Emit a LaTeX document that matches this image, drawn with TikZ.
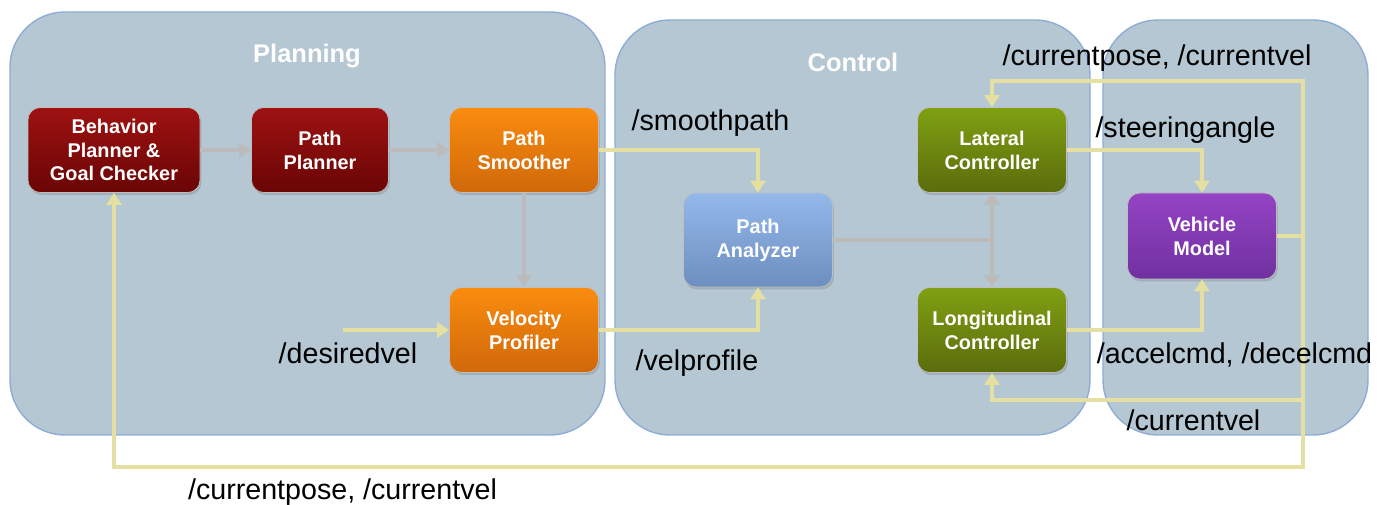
\documentclass[tikz,border=0pt]{standalone}
\usepackage{fontspec}
\setmainfont{Liberation Sans}
\usepackage{xcolor}
\usepackage{tikz}
\usetikzlibrary{arrows.meta, positioning, calc, shadows}
\definecolor{panelfill}{HTML}{B4C7D2}
\definecolor{paneledge}{HTML}{8EADD6}
\definecolor{feedline}{HTML}{E6DFA2}
\definecolor{flowgray}{HTML}{BBBBBB}
\definecolor{redtop}{HTML}{9E1212}
\definecolor{redbot}{HTML}{6A0505}
\definecolor{orgtop}{HTML}{FA8C0E}
\definecolor{orgbot}{HTML}{D0680A}
\definecolor{bluetop}{HTML}{93B8EA}
\definecolor{bluebot}{HTML}{6D8FBF}
\definecolor{grntop}{HTML}{80A012}
\definecolor{grnbot}{HTML}{5A6C0C}
\definecolor{purtop}{HTML}{9444C4}
\definecolor{purbot}{HTML}{7030A0}
\tikzset{
  module/.style  ={rectangle, draw=black!25, line width=0.4pt, rounded corners=7pt,
                   minimum height=1.7cm, minimum width=2.98cm, align=center,
                   text=white, font=\fontsize{11.3}{13.6}\selectfont\bfseries,
                   drop shadow={opacity=0.35, shadow xshift=0.8pt, shadow yshift=-1.4pt}},
  panel/.style   ={rounded corners=1.1cm, fill=panelfill, draw=paneledge, line width=0.8pt},
  ptitle/.style  ={font=\fontsize{14.5}{17}\selectfont\bfseries, text=white},
  topic/.style   ={font=\fontsize{16.3}{19}\selectfont, text=black, inner sep=1pt},
  flow/.style    ={-{Triangle[length=0.24cm, width=0.3cm]}, line width=0.08cm, flowgray},
  feed/.style    ={-{Triangle[length=0.24cm, width=0.3cm]}, line width=0.08cm, feedline}
}

\begin{document}
\begin{tikzpicture}[
  plannermod/.style ={top color=redtop, bottom color=redbot},
  smoothmod/.style  ={top color=orgtop, bottom color=orgbot},
  analyzermod/.style={top color=bluetop, bottom color=bluebot},
  controlmod/.style ={top color=grntop, bottom color=grnbot},
  vehiclemod/.style ={top color=purtop, bottom color=purbot}
]
\useasboundingbox (0,0) rectangle (27.7,10.1);

% Group panels (back)
\draw[panel] (0.2,1.4)   rectangle (12.1,9.86);
\draw[panel] (12.3,1.4)  rectangle (21.8,9.7);
\draw[panel] (22.06,1.4) rectangle (27.36,9.7);
\node[ptitle] (plantitle) at (6.14,8.98)  {Planning};
\node[ptitle] (ctrltitle) at (17.06,8.86) {Control};

% Modules
\node[module, plannermod, minimum width=3.44cm] (behav) at (2.28,7.1)
     {Behavior\\Planner \&\\Goal Checker};
\node[module, plannermod, minimum width=2.74cm] (pplan) at (6.4,7.1) {Path\\Planner};
\node[module, smoothmod]  (smooth)  at (10.48,7.1) {Path\\Smoother};
\node[module, smoothmod]  (velprof) at (10.48,3.5) {Velocity\\Profiler};
\node[module, analyzermod, minimum height=1.88cm] (analyzer) at (15.16,5.3) {Path\\Analyzer};
\node[module, controlmod] (latctl)  at (19.84,7.1) {Lateral\\Controller};
\node[module, controlmod] (lonctl)  at (19.84,3.5) {Longitudinal\\Controller};
\node[module, vehiclemod, minimum height=1.72cm] (vehicle) at (24.04,5.38) {Vehicle\\Model};

% Planning chain and analyzer output (grey)
\draw[flow] (behav) -- (pplan);
\draw[flow] (pplan) -- (smooth);
\draw[flow] (smooth) -- (velprof);
\draw[flow, -] (analyzer.east) -- (analyzer.east -| latctl.south);
\draw[flow, {Triangle[length=0.24cm, width=0.3cm]}-{Triangle[length=0.24cm, width=0.3cm]}]
     (latctl) -- (lonctl);

% Topics (yellow)
\coordinate (desired) at (6.86,3.5);
\draw[feed] (desired) -- (velprof.west);
\draw[feed] (smooth.east)  -| (analyzer.north);
\draw[feed] (velprof.east) -| (analyzer.south);
\draw[feed] (latctl.east)  -| (vehicle.north);
\draw[feed] (lonctl.east)  -| (vehicle.south);

% Feedback from the vehicle model
\coordinate (fbtop) at (26.06,8.48);
\coordinate (fbmid) at (26.06,2.1);
\coordinate (fbbot) at (26.06,0.76);
\foreach \c/\t in {fbtop/latctl.north, fbmid/lonctl.south, fbbot/behav.south}{
  \draw[feed] (vehicle.east) -| (\c) -| (\t);
}

% Topic labels
\node[topic] (smoothlbl)  at (14.21,7.64) {/smoothpath};
\node[topic] (vellbl)     at (13.94,2.84) {/velprofile};
\node[topic] (desiredlbl) at (6.96,3.04)  {/desiredvel};
\node[topic] (steerlbl)   at (23.71,7.5)  {/steeringangle};
\node[topic] (accellbl)   at (24.69,3.0)  {/accelcmd, /decelcmd};
\node[topic] (curvellbl)  at (23.87,1.7)  {/currentvel};
\node[topic] (poselbl)    at (23.14,8.94) {/currentpose, /currentvel};
\node[topic] (posebotlbl) at (6.85,0.26)  {/currentpose, /currentvel};
\end{tikzpicture}
\end{document}
